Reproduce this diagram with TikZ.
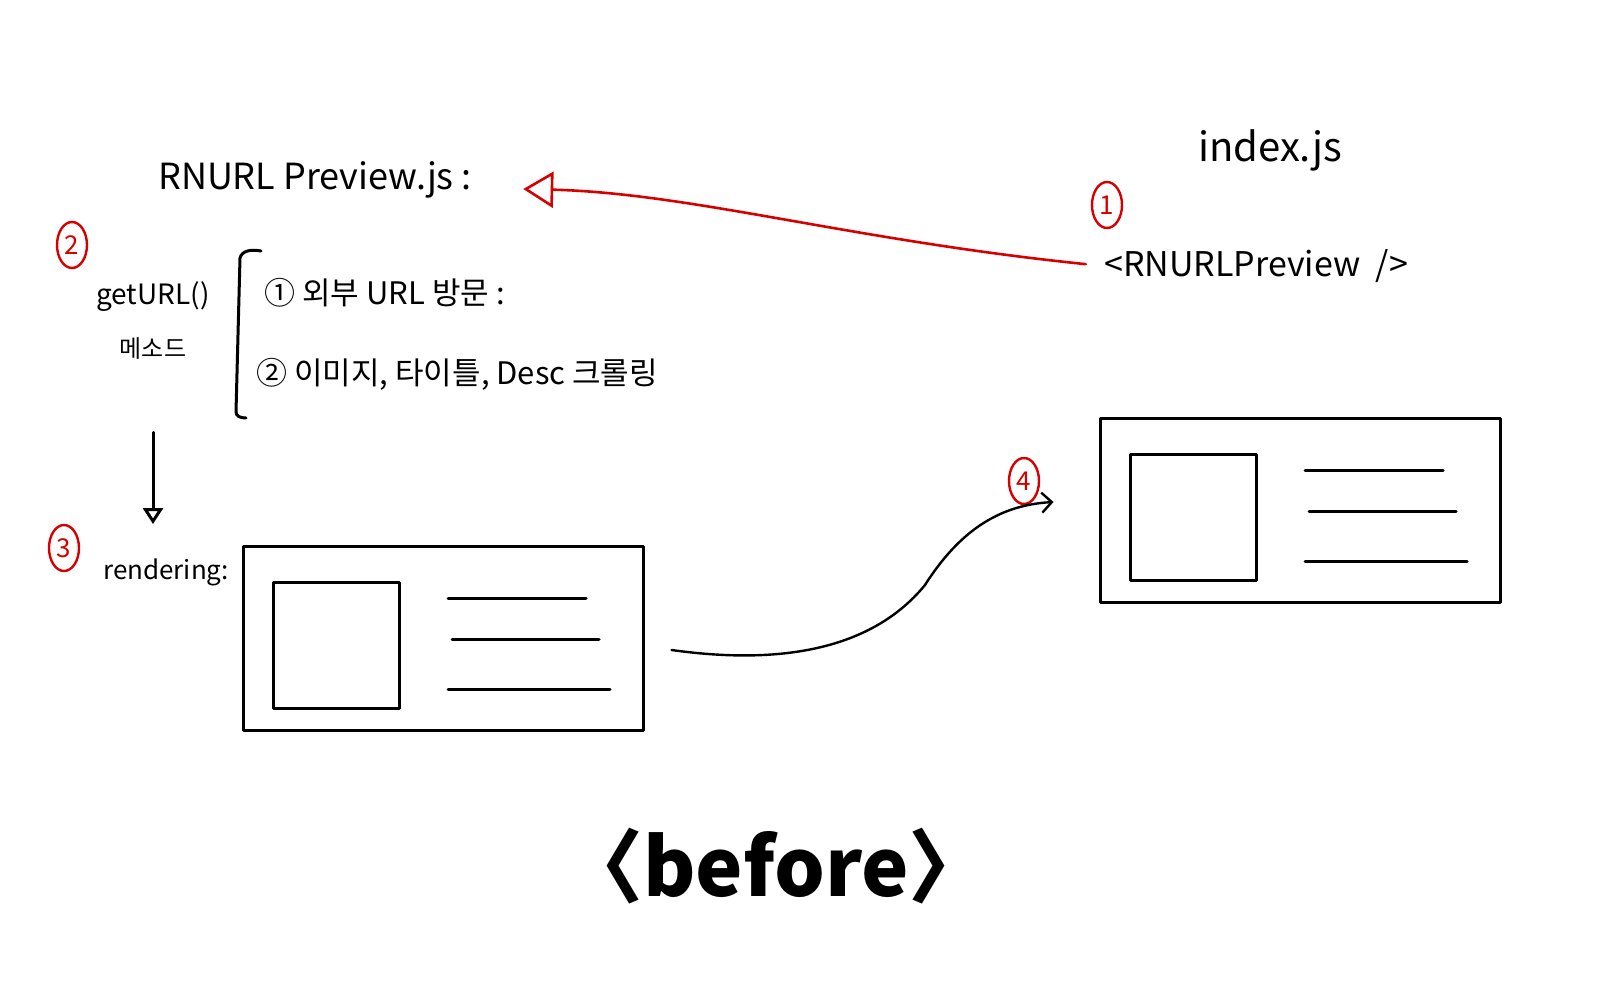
\documentclass[tikz,border=0pt]{standalone}
\usepackage{fontspec}
\setmainfont{Noto Sans CJK KR}
\usetikzlibrary{arrows.meta,shapes.geometric,calc}
\definecolor{penred}{RGB}{214,0,0}

\tikzset{
  pen/.style={line width=1.5pt, line cap=round, line join=round},
  redpen/.style={line width=1.3pt, color=penred, line cap=round},
  lbl/.style={inner sep=0pt},
  numcirc/.style={ellipse, draw=penred, text=penred, line width=1.2pt,
    inner sep=0.5pt, minimum width=15pt, minimum height=23pt,
    font=\fontsize{13}{14}\selectfont},
  card/.style={draw, pen, minimum width=200pt, minimum height=92pt}
}

\begin{document}
\begin{tikzpicture}[x=0.5pt,y=-0.5pt]
  \useasboundingbox (0,0) rectangle (1622,1000);
  % texts
  \node[lbl, font=\fontsize{18}{20}\selectfont] (title) at (315,180) {RNURL Preview.js :};
  \node[lbl, font=\fontsize{20}{22}\selectfont] (index) at (1270,150) {index.js};
  \node[lbl, font=\fontsize{17}{20}\selectfont] (tag) at (1256,266) {<RNURLPreview \ />};
  \node[lbl, font=\fontsize{14}{16}\selectfont] (geturl) at (153,297) {getURL()};
  \node[lbl, font=\fontsize{12}{14}\selectfont] (method) at (153,349) {메소드};
  \node[lbl, anchor=west, font=\fontsize{15.5}{18}\selectfont] (item1) at (264,293) {① 외부 URL 방문 :};
  \node[lbl, anchor=west, font=\fontsize{15.5}{18}\selectfont] (item2) at (256,374) {② 이미지, 타이틀, Desc 크롤링};
  \node[lbl, font=\fontsize{13}{15}\selectfont] (rendering) at (166,572) {rendering:};
  \node[lbl, font=\fontsize{40}{44}\selectfont\bfseries] (before) at (776,866) {〈before〉};
  % red numbers
  \node[numcirc] (num1) at (1107,205) {1};
  \node[numcirc] (num2) at (72,245) {2};
  \node[numcirc] (num3) at (64,548) {3};
  \node[numcirc] (num4) at (1024,481) {4};
  % cards
  \node[card] (leftcard) at (443,638) {};
  \node[card] (rightcard) at (1300,510) {};
  \foreach \c in {leftcard,rightcard}{
    \draw[pen] ($(\c)+(-170,-56)$) rectangle ($(\c)+(-44,70)$);
    \draw[pen] ($(\c)+(5,-40)$) -- ($(\c)+(143,-40)$);
    \draw[pen] ($(\c)+(9,1)$) -- ($(\c)+(156,1)$);
    \draw[pen] ($(\c)+(5,51)$) -- ($(\c)+(167,51)$);
  }
  % bracket
  \draw[pen] (261,251) .. controls (250,249) and (242,251) .. (240,258)
    -- (236,412) .. controls (236,416) and (240,418) .. (246,418);
  % connectors
  \draw[redpen, -{Triangle[open,length=15pt,width=18pt]}, shorten <=9pt]
    (tag.west) .. controls (850,240) and (690,193) .. ($(title.east)+(51,9)$);
  \draw[pen, -{Triangle[open,length=8pt,width=10pt]}]
    ($(method.south)+(0,72)$) -- ($(method.south |- rendering.north)+(0,-34)$);
  \draw[pen, line width=1.2pt, -{Straight Barb[length=5pt]}]
    ($(leftcard.east)+(27,12)$) .. controls (800,668) and (880,640) .. (925,585)
    .. controls (960,530) and (1000,505) .. ($(rightcard.west)+(-45,-8)$);
\end{tikzpicture}
\end{document}
